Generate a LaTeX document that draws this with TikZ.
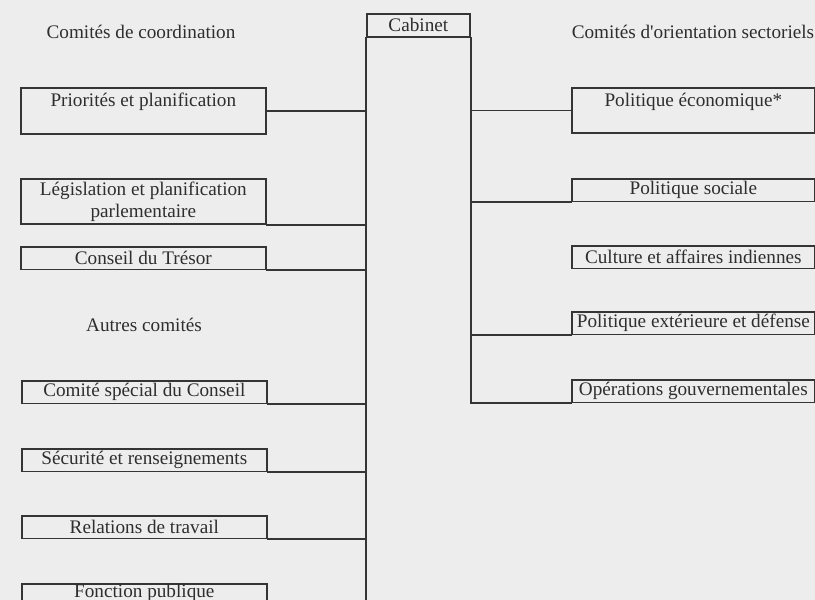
\documentclass[tikz,border=0pt]{standalone}
\usepackage{fontspec}
\setmainfont{Liberation Serif}
\usepackage{tikz}
\definecolor{fond}{HTML}{EDEDED}
\definecolor{trait}{HTML}{353535}
\definecolor{encre}{HTML}{2E2E2E}
\begin{document}
\begin{tikzpicture}[line cap=rect,line join=miter,x=0.5pt,y=-0.5pt,
  boite/.style={draw=trait,line width=0.85pt,rectangle,anchor=north west,inner sep=0pt,
    minimum width=122.5pt,minimum height=11.25pt,align=center,text=encre,
    font=\fontsize{9.6}{11}\selectfont},
  titre/.style={text=encre,inner sep=0pt,font=\fontsize{9.6}{11}\selectfont},
  lien/.style={draw=trait,line width=0.85pt}]
\fill[fond] (0,0) rectangle (815,600);
\useasboundingbox (0,0) rectangle (815,600);
\clip (0,0) rectangle (815,600);
\coordinate (fin) at (0,600);
% titres
\node[titre] (coord) at (141,32) {Comités de coordination};
\node[titre] (autres) at (144,325) {Autres comités};
\node[titre] (secto) at (693,32) {Comités d\textquotesingle orientation sectoriels};
% cabinet
\node[boite,minimum width=51.5pt,minimum height=11.5pt] (cab) at (366,13) {Cabinet};
% comites de gauche
\node[boite,minimum height=23pt] (prio) at (20,87) {Priorités et planification\\ \mbox{}};
\node[boite,minimum height=22.5pt] (legis) at (20,178) {Législation et planification\\ parlementaire};
\node[boite] (tresor) at (20,246) {Conseil du Trésor};
\node[boite] (special) at (21,380) {Comité spécial du Conseil};
\node[boite] (secu) at (21,448) {Sécurité et renseignements};
\node[boite] (travail) at (21,515) {Relations de travail};
\node[boite] (fonction) at (21,583) {Fonction publique\\ \mbox{}};
% comites de droite
\node[boite,minimum width=121.5pt,minimum height=22.5pt] (eco) at (571,87) {Politique économique*\\ \mbox{}};
\node[boite,minimum width=121.5pt] (social) at (571,178) {Politique sociale};
\node[boite,minimum width=121.5pt] (culture) at (571,245) {Culture et affaires indiennes};
\node[boite,minimum width=121.5pt] (exter) at (571,311) {Politique extérieure et défense};
\node[boite,minimum width=121.5pt] (operat) at (571,379) {Opérations gouvernementales};
% liens
\draw[lien] (cab.south west) -- (cab.south west |- fin);
\draw[lien] (cab.south east) |- (operat.south west);
\draw[lien] (prio.east) -- (prio.east -| cab.south west);
\draw[lien] (legis.south east) -- (legis.south east -| cab.south west);
\draw[lien] (tresor.south east) -- (tresor.south east -| cab.south west);
\draw[lien] (special.south east) -- (special.south east -| cab.south west);
\draw[lien] (secu.south east) -- (secu.south east -| cab.south west);
\draw[lien] (travail.south east) -- (travail.south east -| cab.south west);
\draw[lien] (eco.west) -- (eco.west -| cab.south east);
\draw[lien] (social.south west) -- (social.south west -| cab.south east);
\draw[lien] (exter.south west) -- (exter.south west -| cab.south east);
\end{tikzpicture}
\end{document}
